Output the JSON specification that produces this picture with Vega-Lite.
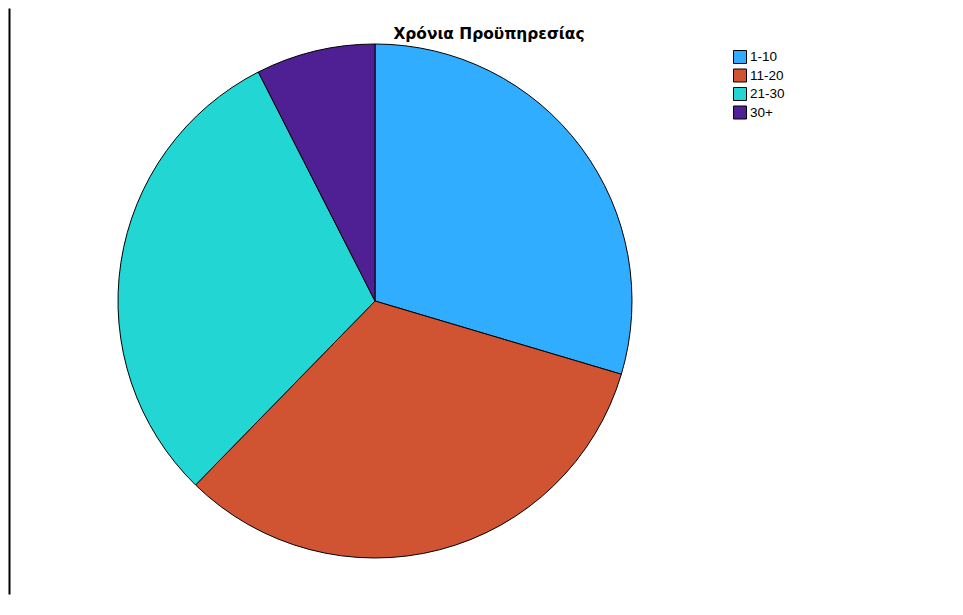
{
  "$schema": "https://vega.github.io/schema/vega-lite/v6.json",
  "autosize": "none",
  "width": 732,
  "height": 586,
  "padding": {"left": 9, "top": 8, "right": 222, "bottom": 21},
  "background": "white",
  "config": {"view": {"stroke": null}, "font": "Liberation Sans"},
  "title": {
    "text": "Χρόνια Προϋπηρεσίας",
    "fontSize": 15.4,
    "fontWeight": "bold",
    "font": "DejaVu Sans",
    "color": "black",
    "anchor": "middle",
    "frame": "group",
    "dx": 114,
    "offset": -46,
    "baseline": "alphabetic"
  },
  "data": {
    "values": [
      {"group": "1-10", "pct": 29.6, "order": 1},
      {"group": "11-20", "pct": 32.7, "order": 2},
      {"group": "21-30", "pct": 30.2, "order": 3},
      {"group": "30+", "pct": 7.5, "order": 4}
    ]
  },
  "layer": [
    {
      "mark": {"type": "point", "opacity": 0},
      "encoding": {
        "y": {
          "field": "pct",
          "type": "quantitative",
          "axis": {
            "domain": true,
            "domainColor": "black",
            "domainWidth": 2,
            "ticks": false,
            "labels": false,
            "grid": false,
            "title": null
          }
        }
      }
    },
    {
      "mark": {"type": "arc", "outerRadius": 257, "stroke": "black", "strokeWidth": 1},
      "encoding": {
        "theta": {"field": "pct", "type": "quantitative", "stack": true},
        "order": {"field": "order", "type": "quantitative"},
        "color": {
          "field": "group",
          "type": "nominal",
          "scale": {
            "domain": ["1-10", "11-20", "21-30", "30+"],
            "range": ["#30adfe", "#d05432", "#22d6d4", "#4f1f94"]
          },
          "legend": {
            "orient": "none",
            "legendX": 724,
            "legendY": 42,
            "title": null,
            "padding": 0,
            "symbolType": "square",
            "symbolSize": 169,
            "symbolStrokeColor": "black",
            "symbolStrokeWidth": 1,
            "symbolOpacity": 1,
            "labelFontSize": 13.5,
            "labelFont": "Liberation Sans",
            "labelColor": "black",
            "labelOffset": 3,
            "rowPadding": 0.5
          }
        }
      }
    }
  ]
}
